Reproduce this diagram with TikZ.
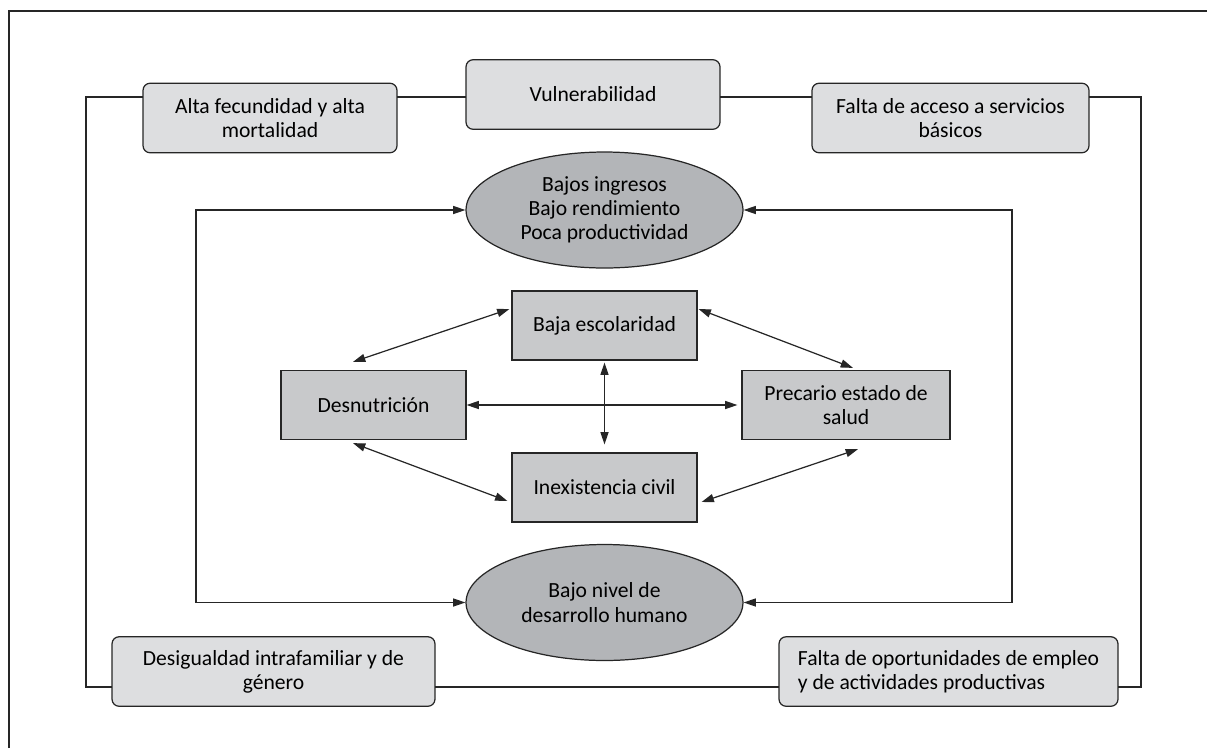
\documentclass[tikz,border=0pt]{standalone}
\usepackage{fontspec}
\setmainfont{Carlito}
\usetikzlibrary{arrows.meta,shapes.geometric,calc}

\definecolor{grisclaro}{RGB}{221,222,224}
\definecolor{grismedio}{RGB}{200,201,203}
\definecolor{grisoscuro}{RGB}{179,181,184}

\tikzset{
    factor/.style = {draw, rounded corners=0.14cm, fill=grisclaro, minimum height=1.39cm, align=center},
    causa/.style = {draw, fill=grismedio, minimum width=3.7cm, minimum height=1.38cm, align=center},
    efecto/.style = {draw, ellipse, fill=grisoscuro, minimum width=5.54cm, minimum height=2.32cm, inner sep=0pt, align=center}
}

\begin{document}
\begin{tikzpicture}[x=0.02cm, y=-0.02cm, line width=0.7pt, draw=black!85,
        >={Triangle[length=7pt, width=4.6pt]}, font=\fontsize{12.3}{13.8}\selectfont]
        \useasboundingbox (0, 0) rectangle (1207, 748);
        \draw (9, 748) -- (9, 11) -- (1207, 11);
        % lazo exterior
        \coordinate (nw) at (86, 97);
        \coordinate (se) at (1141, 687);
        \draw (nw) rectangle (se);
        \node [factor, minimum width=5.08cm] (alta) at (270, 118) {Alta fecundidad y alta\\mortalidad};
        \node [factor, minimum width=5.08cm] (vul) at (593, 94.5) {Vulnerabilidad};
        \node [factor, minimum width=5.54cm] (acceso) at (950.5, 118) {Falta de acceso a servicios\\básicos};
        \node [factor, minimum width=6.46cm] (desig) at (273.5, 671.5) {Desigualdad intrafamiliar y de\\género};
        \node [factor, minimum width=6.78cm, align=left] (empleo) at (948.5, 671.5) {Falta de oportunidades de empleo\\y de actividades productivas};
        % elipses
        \node [efecto] (ingresos) at (604.5, 210) {Bajos ingresos\\Bajo rendimiento\\Poca productividad};
        \node [efecto] (desarrollo) at (604.5, 602.5) {Bajo nivel de\\desarrollo humano};
        % rombo central
        \node [causa] (escolar) at (604.5, 325.5) {Baja escolaridad};
        \node [causa] (desnut) at (373.5, 405) {Desnutrición};
        \node [causa, minimum width=4.16cm] (salud) at (846, 405) {Precario estado de\\salud};
        \node [causa] (civil) at (604.5, 487.5) {Inexistencia civil};
        \draw [<->, shorten <=0.04cm, shorten >=0.16cm] (escolar) -- (civil);
        \draw [<->, shorten >=0.08cm] (desnut) -- (salud);
        \draw [<->] ($(desnut.north)+(-20.5, -8)$) -- ($(escolar.west)+(-2, -16.5)$);
        \draw [<->] ($(escolar.east)+(1, -16.5)$) -- ($(salud.north)+(7, -2)$);
        \draw [<->] ($(desnut.south)+(-20.5, 3)$) -- ($(civil.west)+(-4, 13.5)$);
        \draw [<->] ($(civil.east)+(4, 14.5)$) -- ($(salud.south)+(12, 9)$);
        % lazo interior
        \coordinate (izq) at (196, 400);
        \coordinate (der) at (1012, 400);
        \draw [<->] (ingresos.west) -| (izq) |- (desarrollo.west);
        \draw [<->] (ingresos.east) -| (der) |- (desarrollo.east);
    \end{tikzpicture}
\end{document}
